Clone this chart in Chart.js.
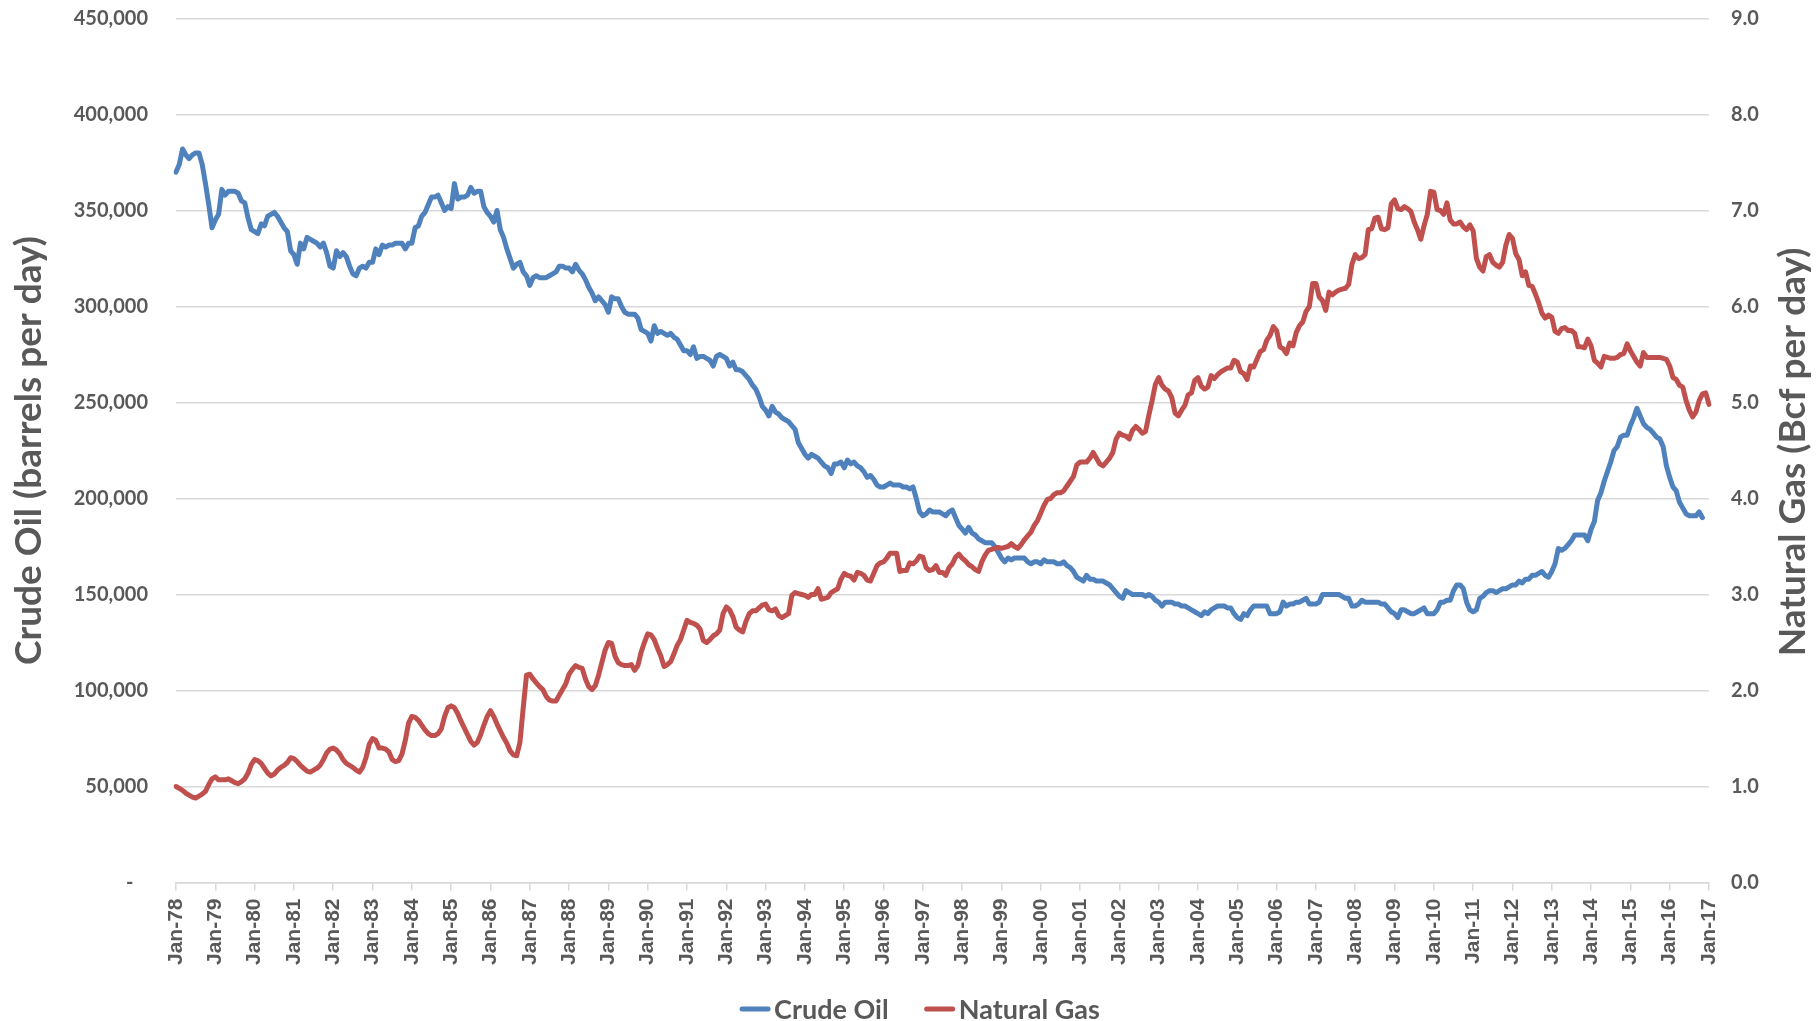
<!DOCTYPE html>
<html>
<head>
<meta charset="utf-8">
<title>Crude Oil and Natural Gas</title>
<script src="https://cdn.jsdelivr.net/npm/chart.js@4.4.0/dist/chart.umd.min.js"></script>
<style>
  html, body { margin: 0; padding: 0; background: #ffffff; }
  #wrap { width: 1816px; height: 1021px; }
</style>
</head>
<body>
<div id="wrap"><canvas id="chart" width="1816" height="1021"></canvas></div>
<script>
/* ---------------------------------------------------------- */
/* Crude oil (barrels/day) vs natural gas (Bcf/day), monthly   */
/* ---------------------------------------------------------- */

const monthNames = ['Jan', 'Feb', 'Mar', 'Apr', 'May', 'Jun', 'Jul', 'Aug', 'Sep', 'Oct', 'Nov', 'Dec'];
const firstYear = 1978;
const lastYear = 2017;   // axis ends at Jan-17

// one category per month, Jan-78 .. Jan-17
const monthLabels = [];
for (let y = firstYear; y <= lastYear; y++) {
  for (let m = 0; m < 12; m++) {
    if (y === lastYear && m > 0) break;
    monthLabels.push(monthNames[m] + '-' + String(y).slice(2));
  }
}

// Crude oil, barrels per day (Jan-78 .. Nov-16)
const crudeOil = [
  370000, 374000, 382000, 379000, 377000, 379000, 380000, 380000, 374000, 364000, 353000, 341000, // 1978
  345000, 348000, 361000, 358000, 360000, 360000, 360000, 359000, 355000, 354000, 346000, 340000, // 1979
  339000, 338000, 343000, 342000, 347000, 348000, 349000, 347000, 344000, 341000, 339000, 329000, // 1980
  327000, 322000, 333000, 330000, 336000, 335000, 334000, 333000, 331000, 333000, 328000, 321000, // 1981
  320000, 329000, 326000, 328000, 326000, 321000, 317000, 316000, 320000, 321000, 320000, 323000, // 1982
  323000, 330000, 327000, 332000, 331000, 332000, 332000, 333000, 333000, 333000, 330000, 333000, // 1983
  333000, 341000, 342000, 347000, 349000, 353000, 357000, 357000, 358000, 354000, 350000, 352000, // 1984
  351000, 364000, 356000, 357000, 357000, 358000, 362000, 359000, 360000, 360000, 352000, 349000, // 1985
  347000, 344000, 350000, 340000, 336000, 330000, 325000, 320000, 322000, 323000, 318000, 316000, // 1986
  311000, 315000, 316000, 315000, 315000, 315000, 316000, 317000, 318000, 321000, 321000, 320000, // 1987
  320000, 318000, 322000, 319000, 317000, 314000, 310000, 307000, 303000, 305000, 303000, 301000, // 1988
  297000, 305000, 304000, 304000, 300000, 297000, 296000, 296000, 296000, 294000, 288000, 287000, // 1989
  286000, 282000, 290000, 286000, 287000, 286000, 285000, 286000, 284000, 283000, 280000, 277000, // 1990
  277000, 275000, 279000, 273000, 274000, 274000, 273000, 272000, 269000, 274000, 275000, 274000, // 1991
  273000, 269000, 271000, 267000, 267000, 266000, 264000, 262000, 259000, 257000, 253000, 248000, // 1992
  246000, 243000, 248000, 245000, 244000, 242000, 241000, 240000, 238000, 236000, 229000, 226000, // 1993
  223000, 221000, 223000, 222000, 221000, 219000, 217000, 216000, 213000, 218000, 218000, 219000, // 1994
  216000, 220000, 218000, 219000, 217000, 216000, 214000, 211000, 212000, 210000, 207000, 206000, // 1995
  206000, 207000, 208000, 207000, 207000, 207000, 206000, 206000, 205000, 206000, 200000, 193000, // 1996
  191000, 192000, 194000, 193000, 193000, 193000, 192000, 191000, 193000, 194000, 190000, 186000, // 1997
  184000, 182000, 185000, 182000, 181000, 179000, 178000, 177000, 177000, 177000, 175000, 172000, // 1998
  169000, 167000, 169000, 168000, 169000, 169000, 169000, 169000, 167000, 166000, 167000, 167000, // 1999
  166000, 168000, 167000, 167000, 167000, 166000, 166000, 167000, 165000, 164000, 162000, 159000, // 2000
  158000, 157000, 160000, 158000, 158000, 157000, 157000, 157000, 156000, 155000, 153000, 151000, // 2001
  149000, 148000, 152000, 151000, 150000, 150000, 150000, 150000, 149000, 150000, 149000, 147000, // 2002
  146000, 144000, 146000, 146000, 146000, 145000, 145000, 144000, 144000, 143000, 142000, 141000, // 2003
  140000, 139000, 141000, 140000, 142000, 143000, 144000, 144000, 144000, 143000, 143000, 140000, // 2004
  138000, 137000, 140000, 139000, 142000, 144000, 144000, 144000, 144000, 144000, 140000, 140000, // 2005
  140000, 141000, 146000, 144000, 145000, 145000, 146000, 146000, 147000, 148000, 145000, 145000, // 2006
  145000, 146000, 150000, 150000, 150000, 150000, 150000, 150000, 149000, 148000, 148000, 144000, // 2007
  144000, 145000, 147000, 146000, 146000, 146000, 146000, 146000, 145000, 145000, 143000, 141000, // 2008
  140000, 138000, 142000, 142000, 141000, 140000, 140000, 141000, 142000, 143000, 140000, 140000, // 2009
  140000, 142000, 146000, 146000, 147000, 147000, 152000, 155000, 155000, 153000, 146000, 142000, // 2010
  141000, 142000, 148000, 149000, 151000, 152000, 152000, 151000, 152000, 153000, 153000, 154000, // 2011
  155000, 155000, 157000, 156000, 158000, 158000, 160000, 160000, 161000, 162000, 160000, 159000, // 2012
  162000, 166000, 174000, 173000, 174000, 176000, 178000, 181000, 181000, 181000, 181000, 178000, // 2013
  184000, 188000, 199000, 203000, 209000, 214000, 219000, 225000, 227000, 232000, 233000, 233000, // 2014
  238000, 242000, 247000, 243000, 239000, 237000, 236000, 234000, 232000, 231000, 227000, 217000, // 2015
  211000, 206000, 204000, 198000, 195000, 192000, 191000, 191000, 191000, 193000, 190000          // 2016
];

// Natural gas, Bcf per day (Jan-78 .. Jan-17)
const naturalGas = [
  1.00, 0.98, 0.96, 0.93, 0.91, 0.89, 0.88, 0.90, 0.92, 0.95, 1.02, 1.08, // 1978
  1.10, 1.07, 1.07, 1.07, 1.08, 1.06, 1.04, 1.03, 1.05, 1.08, 1.14, 1.23, // 1979
  1.28, 1.27, 1.24, 1.19, 1.14, 1.11, 1.13, 1.17, 1.20, 1.22, 1.25, 1.30, // 1980
  1.29, 1.26, 1.22, 1.19, 1.16, 1.15, 1.17, 1.19, 1.22, 1.28, 1.35, 1.39, // 1981
  1.40, 1.38, 1.34, 1.28, 1.24, 1.22, 1.20, 1.17, 1.15, 1.20, 1.30, 1.44, // 1982
  1.50, 1.48, 1.40, 1.40, 1.39, 1.36, 1.28, 1.26, 1.27, 1.34, 1.48, 1.66, // 1983
  1.73, 1.72, 1.69, 1.64, 1.59, 1.55, 1.53, 1.53, 1.55, 1.60, 1.73, 1.82, // 1984
  1.84, 1.82, 1.76, 1.68, 1.61, 1.54, 1.47, 1.43, 1.46, 1.54, 1.64, 1.73, // 1985
  1.79, 1.73, 1.65, 1.58, 1.51, 1.45, 1.37, 1.33, 1.32, 1.46, 1.82, 2.16, // 1986
  2.17, 2.12, 2.08, 2.04, 2.01, 1.94, 1.90, 1.89, 1.89, 1.95, 2.01, 2.07, // 1987
  2.17, 2.22, 2.26, 2.24, 2.23, 2.12, 2.04, 2.01, 2.05, 2.16, 2.29, 2.42, // 1988
  2.50, 2.49, 2.36, 2.29, 2.27, 2.26, 2.26, 2.27, 2.21, 2.26, 2.40, 2.50, // 1989
  2.59, 2.58, 2.53, 2.44, 2.36, 2.25, 2.27, 2.30, 2.38, 2.47, 2.53, 2.63, // 1990
  2.73, 2.71, 2.70, 2.68, 2.64, 2.52, 2.50, 2.53, 2.57, 2.59, 2.63, 2.80, // 1991
  2.87, 2.84, 2.77, 2.66, 2.63, 2.61, 2.72, 2.80, 2.83, 2.83, 2.86, 2.89, // 1992
  2.90, 2.84, 2.83, 2.85, 2.78, 2.76, 2.78, 2.80, 2.99, 3.02, 3.01, 3.00, // 1993
  2.99, 2.97, 3.00, 3.00, 3.06, 2.95, 2.96, 2.97, 3.02, 3.04, 3.06, 3.16, // 1994
  3.22, 3.20, 3.19, 3.15, 3.23, 3.22, 3.20, 3.15, 3.14, 3.22, 3.30, 3.33, // 1995
  3.34, 3.38, 3.43, 3.43, 3.43, 3.24, 3.25, 3.25, 3.33, 3.32, 3.35, 3.40, // 1996
  3.39, 3.28, 3.25, 3.26, 3.30, 3.23, 3.23, 3.20, 3.28, 3.32, 3.39, 3.42, // 1997
  3.38, 3.35, 3.31, 3.29, 3.26, 3.24, 3.34, 3.41, 3.46, 3.47, 3.48, 3.49, // 1998
  3.48, 3.49, 3.50, 3.53, 3.50, 3.48, 3.52, 3.57, 3.61, 3.65, 3.72, 3.77, // 1999
  3.85, 3.93, 3.99, 4.00, 4.04, 4.06, 4.06, 4.08, 4.13, 4.18, 4.23, 4.35, // 2000
  4.38, 4.38, 4.38, 4.42, 4.48, 4.42, 4.36, 4.34, 4.38, 4.42, 4.48, 4.62, // 2001
  4.68, 4.66, 4.65, 4.62, 4.71, 4.75, 4.72, 4.68, 4.70, 4.87, 5.02, 5.19, // 2002
  5.26, 5.18, 5.14, 5.12, 5.05, 4.89, 4.86, 4.92, 4.97, 5.08, 5.10, 5.23, // 2003
  5.26, 5.17, 5.14, 5.16, 5.28, 5.25, 5.29, 5.32, 5.34, 5.36, 5.36, 5.44, // 2004
  5.42, 5.32, 5.30, 5.24, 5.38, 5.37, 5.45, 5.53, 5.55, 5.65, 5.70, 5.79, // 2005
  5.75, 5.58, 5.56, 5.51, 5.62, 5.59, 5.73, 5.80, 5.84, 5.95, 6.00, 6.24, // 2006
  6.24, 6.10, 6.06, 5.96, 6.15, 6.12, 6.15, 6.17, 6.18, 6.19, 6.23, 6.44, // 2007
  6.54, 6.50, 6.51, 6.54, 6.80, 6.81, 6.92, 6.93, 6.81, 6.80, 6.82, 7.07, // 2008
  7.11, 7.02, 7.01, 7.04, 7.02, 6.99, 6.88, 6.80, 6.70, 6.84, 6.96, 7.20, // 2009
  7.19, 7.01, 7.00, 6.96, 7.08, 6.90, 6.86, 6.86, 6.88, 6.83, 6.80, 6.85, // 2010
  6.79, 6.50, 6.41, 6.37, 6.52, 6.54, 6.46, 6.43, 6.41, 6.46, 6.64, 6.75, // 2011
  6.71, 6.55, 6.49, 6.32, 6.36, 6.22, 6.21, 6.13, 6.04, 5.93, 5.88, 5.91, // 2012
  5.89, 5.74, 5.72, 5.77, 5.78, 5.75, 5.75, 5.72, 5.58, 5.58, 5.57, 5.66, // 2013
  5.59, 5.44, 5.41, 5.37, 5.48, 5.47, 5.46, 5.46, 5.47, 5.50, 5.51, 5.61, // 2014
  5.54, 5.48, 5.42, 5.38, 5.52, 5.47, 5.47, 5.47, 5.47, 5.47, 5.46, 5.45, // 2015
  5.38, 5.26, 5.24, 5.18, 5.16, 5.02, 4.92, 4.85, 4.90, 5.02, 5.09, 5.10, // 2016
  4.98                                                                    // 2017
];

// left axis ticks, right axis ticks
const oilTicks = [0, 50000, 100000, 150000, 200000, 250000, 300000, 350000, 400000, 450000];
const gasTicks = [0, 1, 2, 3, 4, 5, 6, 7, 8, 9];

const textColor = '#595959';
const gridColor = '#D9D9D9';
const fontMain = 'Lato, "Open Sans", sans-serif';

// legend at the bottom and the right-hand axis title (drawn by hand so it reads bottom-to-top)
const extrasPlugin = {
  id: 'extras',
  afterDraw(chart) {
    const ctx = chart.ctx;
    ctx.save();

    // right axis title
    ctx.font = 'bold 37px ' + fontMain;
    ctx.fillStyle = textColor;
    ctx.textAlign = 'center';
    ctx.textBaseline = 'middle';
    ctx.translate(1793, 452);
    ctx.rotate(-Math.PI / 2);
    ctx.fillText('Natural Gas (Bcf per day)', 0, 0);
    ctx.setTransform(1, 0, 0, 1, 0, 0);

    // legend
    ctx.font = 'bold 27px ' + fontMain;
    const sampleW = 30, textGap = 4, itemGap = 36;
    const items = chart.data.datasets.map(ds => ({
      text: ds.label,
      color: ds.borderColor,
      w: ctx.measureText(ds.label).width
    }));
    const total = items.reduce((a, it) => a + sampleW + textGap + it.w, 0) + itemGap * (items.length - 1);
    let x = 920 - total / 2;
    const y = 1009;
    ctx.textAlign = 'left';
    items.forEach(it => {
      ctx.strokeStyle = it.color;
      ctx.lineWidth = 5;
      ctx.lineCap = 'round';
      ctx.beginPath();
      ctx.moveTo(x + 2, y);
      ctx.lineTo(x + sampleW - 2, y);
      ctx.stroke();
      ctx.fillStyle = textColor;
      ctx.fillText(it.text, x + sampleW + textGap, y + 1);
      x += sampleW + textGap + it.w + itemGap;
    });

    ctx.restore();
  }
};

// pin the side axes to fixed widths and stop their tick padding from pushing the plot down
function fixSideAxis(width) {
  return (scale) => {
    scale.width = width;
    scale.paddingTop = 0;
    scale.paddingBottom = 0;
  };
}

new Chart(document.getElementById('chart'), {
  type: 'line',
  data: {
    labels: monthLabels,
    datasets: [
      {
        label: 'Crude Oil',
        data: crudeOil,
        yAxisID: 'y',
        borderColor: '#4F81BD',
        backgroundColor: '#4F81BD',
        borderWidth: 5,
        pointRadius: 0,
        tension: 0,
        borderJoinStyle: 'round',
        borderCapStyle: 'round',
        order: 1
      },
      {
        label: 'Natural Gas',
        data: naturalGas,
        yAxisID: 'y1',
        borderColor: '#C0504D',
        backgroundColor: '#C0504D',
        borderWidth: 5,
        pointRadius: 0,
        tension: 0,
        borderJoinStyle: 'round',
        borderCapStyle: 'round',
        order: 0
      }
    ]
  },
  options: {
    responsive: false,
    animation: false,
    devicePixelRatio: 1,
    events: [],
    layout: { padding: { top: 18.5, bottom: 50, left: 0, right: 0 } },
    plugins: {
      legend: { display: false },
      tooltip: { enabled: false },
      title: { display: false }
    },
    scales: {
      x: {
        type: 'category',
        offset: false,
        afterFit: (scale) => { scale.height = 1021 - 50 - 882.5; },
        grid: {
          display: true,
          drawOnChartArea: false,
          drawTicks: true,
          tickLength: 8,
          color: gridColor,
          lineWidth: 1.5
        },
        border: { display: true, color: gridColor, width: 1.5 },
        ticks: {
          autoSkip: false,
          maxRotation: 90,
          minRotation: 90,
          padding: 8,
          color: textColor,
          font: { family: '"Liberation Sans", Arial, sans-serif', size: 21, weight: 'bold' },
          callback: function (value) {
            const lbl = this.getLabelForValue(value);
            return lbl.startsWith('Jan') ? lbl : null;
          }
        }
      },
      y: {
        position: 'left',
        min: oilTicks[0],
        max: oilTicks[oilTicks.length - 1],
        afterFit: fixSideAxis(176),
        afterBuildTicks: (scale) => { scale.ticks = oilTicks.map(v => ({ value: v })); },
        grid: { color: gridColor, lineWidth: 1.5, drawTicks: false },
        border: { display: false },
        ticks: {
          padding: 28,
          color: textColor,
          font: { family: fontMain, size: 20, weight: 'bold' },
          callback: (v) => v === 0 ? '-   ' : v.toLocaleString('en-US')
        },
        title: {
          display: true,
          text: 'Crude Oil (barrels per day)',
          color: textColor,
          font: { family: fontMain, size: 37, weight: 'bold' },
          padding: { top: 7, bottom: 0 }
        }
      },
      y1: {
        position: 'right',
        min: gasTicks[0],
        max: gasTicks[gasTicks.length - 1],
        afterFit: fixSideAxis(1816 - 1709),
        afterBuildTicks: (scale) => { scale.ticks = gasTicks.map(v => ({ value: v })); },
        grid: { drawOnChartArea: false, drawTicks: false },
        border: { display: false },
        ticks: {
          padding: 22,
          color: textColor,
          font: { family: fontMain, size: 20, weight: 'bold' },
          callback: (v) => v.toFixed(1)
        }
      }
    }
  },
  plugins: [extrasPlugin]
});
</script>
</body>
</html>
